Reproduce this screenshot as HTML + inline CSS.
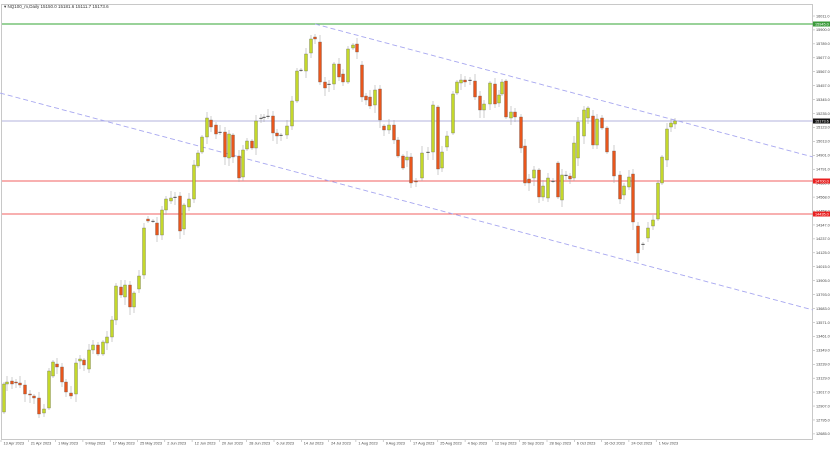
<!DOCTYPE html>
<html><head><meta charset="utf-8"><style>
body{margin:0;background:#fff;}
svg{display:block;font-family:"Liberation Sans",sans-serif;}
</style></head><body>
<svg id="s" width="838" height="451" xmlns="http://www.w3.org/2000/svg">
<rect width="838" height="451" fill="#fff"/>
<rect x="1.5" y="4.5" width="811" height="435" fill="none" stroke="#c8c8c8"/>
<text x="4" y="8" font-size="4.5" fill="#333">▾ NQ100_m,Daily  15150.0 15181.6 15111.7 15173.6</text>
<line x1="2" y1="24" x2="813" y2="24" stroke="#5cb85c" stroke-width="1.2"/>
<line x1="2" y1="121" x2="813" y2="121" stroke="#9a9ad0" stroke-width="0.8"/>
<line x1="2" y1="181" x2="813" y2="181" stroke="#f06060" stroke-width="1"/>
<line x1="2" y1="214" x2="813" y2="214" stroke="#f06060" stroke-width="1"/>
<line x1="315" y1="24" x2="813" y2="157" stroke="#a8a8f0" stroke-width="0.9" stroke-dasharray="5,3"/>
<line x1="0" y1="93" x2="813" y2="310" stroke="#a8a8f0" stroke-width="0.9" stroke-dasharray="5,3"/>
<g id="c"></g>
<g id="ax" font-size="3.8" fill="#444"></g>
<rect x="813" y="21.5" width="17" height="5" fill="#3a9a3a"/><text x="815" y="25.5" font-size="3.8" fill="#fff">15945.0</text>
<rect x="813" y="118.5" width="17" height="5" fill="#111"/><text x="815" y="122.5" font-size="3.8" fill="#fff">15173.6</text>
<rect x="813" y="178.5" width="17" height="5" fill="#e82020"/><text x="815" y="182.5" font-size="3.8" fill="#fff">14700.0</text>
<rect x="813" y="211.5" width="17" height="5" fill="#e82020"/><text x="815" y="215.5" font-size="3.8" fill="#fff">14435.0</text>
</svg>
<script>
var d=[[4,412,384],[7,384,382],[12,381,384],[16,382,383],[20,383,385],[25,385,394],[30,394,395],[34,396,398],[39,398,414],[44,413,409],[49,408,371],[53,376,362],[57,364,367],[62,367,382],[66,382,392],[71,393,396],[76,394,363],[80,361,359],[84,360,365],[89,369,350],[93,350,345],[98,345,354],[103,354,342],[107,343,337],[112,337,320],[116,320,286],[121,287,295],[125,297,285],[130,285,307],[134,307,293],[139,289,276],[144,275,228],[148,219,221],[153,221,221],[157,223,235],[162,235,210],[166,210,199],[171,201,198],[175,197,197],[180,196,231],[184,229,205],[189,207,199],[194,199,165],
[198,166,153],[202,152,137],[207,137,118],[211,120,127],[216,125,134],[220,132,132],[225,132,157],[229,158,134],[233,135,157],[239,156,178],[243,177,150],[247,149,141],[252,141,148],[256,148,121],[261,118,118],[264,117,117],[268,116,116],[273,116,133],[277,133,136],[281,135,135],[287,135,126],[292,126,101],[297,101,71],[301,70,70],[306,71,54],[311,53,39],[315,37,39],[320,42,82],[325,82,88],[329,84,84],[334,84,64],[339,64,77],[343,74,82],[348,82,49],[353,48,45],[357,44,52],[362,65,97],[366,96,100],[370,97,106],[375,105,90],[380,89,120],[384,126,130],[389,130,125],[394,125,140],[398,140,156],[403,156,168],
[407,160,157],[411,157,183],[416,181,182],[422,178,153],[428,152,152],[433,152,105],[438,107,169],[442,168,152],[447,147,136],[453,133,94],[457,93,82],[461,83,80],[465,80,82],[470,80,80],[475,81,97],[480,96,110],[484,110,104],[490,104,83],[495,84,104],[499,103,95],[502,94,82],[506,81,117],[511,118,112],[515,112,117],[521,117,148],[525,146,183],[529,179,183],[534,178,170],[539,170,197],[543,197,186],[548,198,178],[553,181,181],[558,163,197],[562,200,175],[566,175,175],[570,176,179],[574,178,143],[578,158,122],[584,136,110],[588,118,108],[593,116,145],[597,145,119],[602,118,128],[607,128,152],[614,151,176],[620,175,199],[624,195,186],[629,187,177],[633,174,222],[638,226,253],[643,244,244],[648,238,228],[653,226,220],[658,219,183],[662,183,157],[667,160,129],[671,127,123],[675,124,121]];
var g='',r=0;
d.forEach(function(c,i){var x=c[0],o=c[1],cl=c[2];r=(i*37)%11;
var hi=Math.min(o,cl)-2-(r%6),lo=Math.max(o,cl)+2+((r*3)%7);
g+='<line x1="'+x+'" y1="'+hi+'" x2="'+x+'" y2="'+lo+'" stroke="#aaa" stroke-width="0.6"/>';
var t=Math.min(o,cl),h=Math.max(Math.abs(o-cl),0.8);
g+='<rect x="'+(x-1.5)+'" y="'+t+'" width="3" height="'+h+'" fill="'+(cl<o?'#c4d82a':(cl>o?'#e8561c':'#666'))+'" stroke="#555" stroke-width="0.3"/>';});
document.getElementById('c').innerHTML=g;
var labs=['16011.0','15900.0','15789.0','15677.0','15567.0','15457.0','15345.0','15235.0','15123.0','15013.0','14901.0','14791.0','14680.0','14568.0','14458.0','14347.0','14237.0','14125.0','14015.0','13905.0','13793.0','13683.0','13571.0','13461.0','13349.0','13239.0','13129.0','13017.0','12907.0','12795.0','12685.0'];
var a='';labs.forEach(function(l,i){var y=16+i*13.93;a+='<line x1="813" y1="'+y+'" x2="815" y2="'+y+'" stroke="#888" stroke-width="0.4"/><text x="816" y="'+(y+1.3)+'">'+l+'</text>';});
var ds=['13 Apr 2023','21 Apr 2023','1 May 2023','9 May 2023','17 May 2023','25 May 2023','2 Jun 2023','12 Jun 2023','20 Jun 2023','28 Jun 2023','6 Jul 2023','14 Jul 2023','24 Jul 2023','1 Aug 2023','9 Aug 2023','17 Aug 2023','25 Aug 2023','4 Sep 2023','12 Sep 2023','20 Sep 2023','28 Sep 2023','6 Oct 2023','16 Oct 2023','24 Oct 2023','1 Nov 2023'];
ds.forEach(function(l,i){var x=1+i*27.3;a+='<line x1="'+x+'" y1="440" x2="'+x+'" y2="442" stroke="#888" stroke-width="0.4"/><text x="'+(x+2.5)+'" y="444.5">'+l+'</text>';});
document.getElementById('ax').innerHTML=a;
</script>
</body></html>
